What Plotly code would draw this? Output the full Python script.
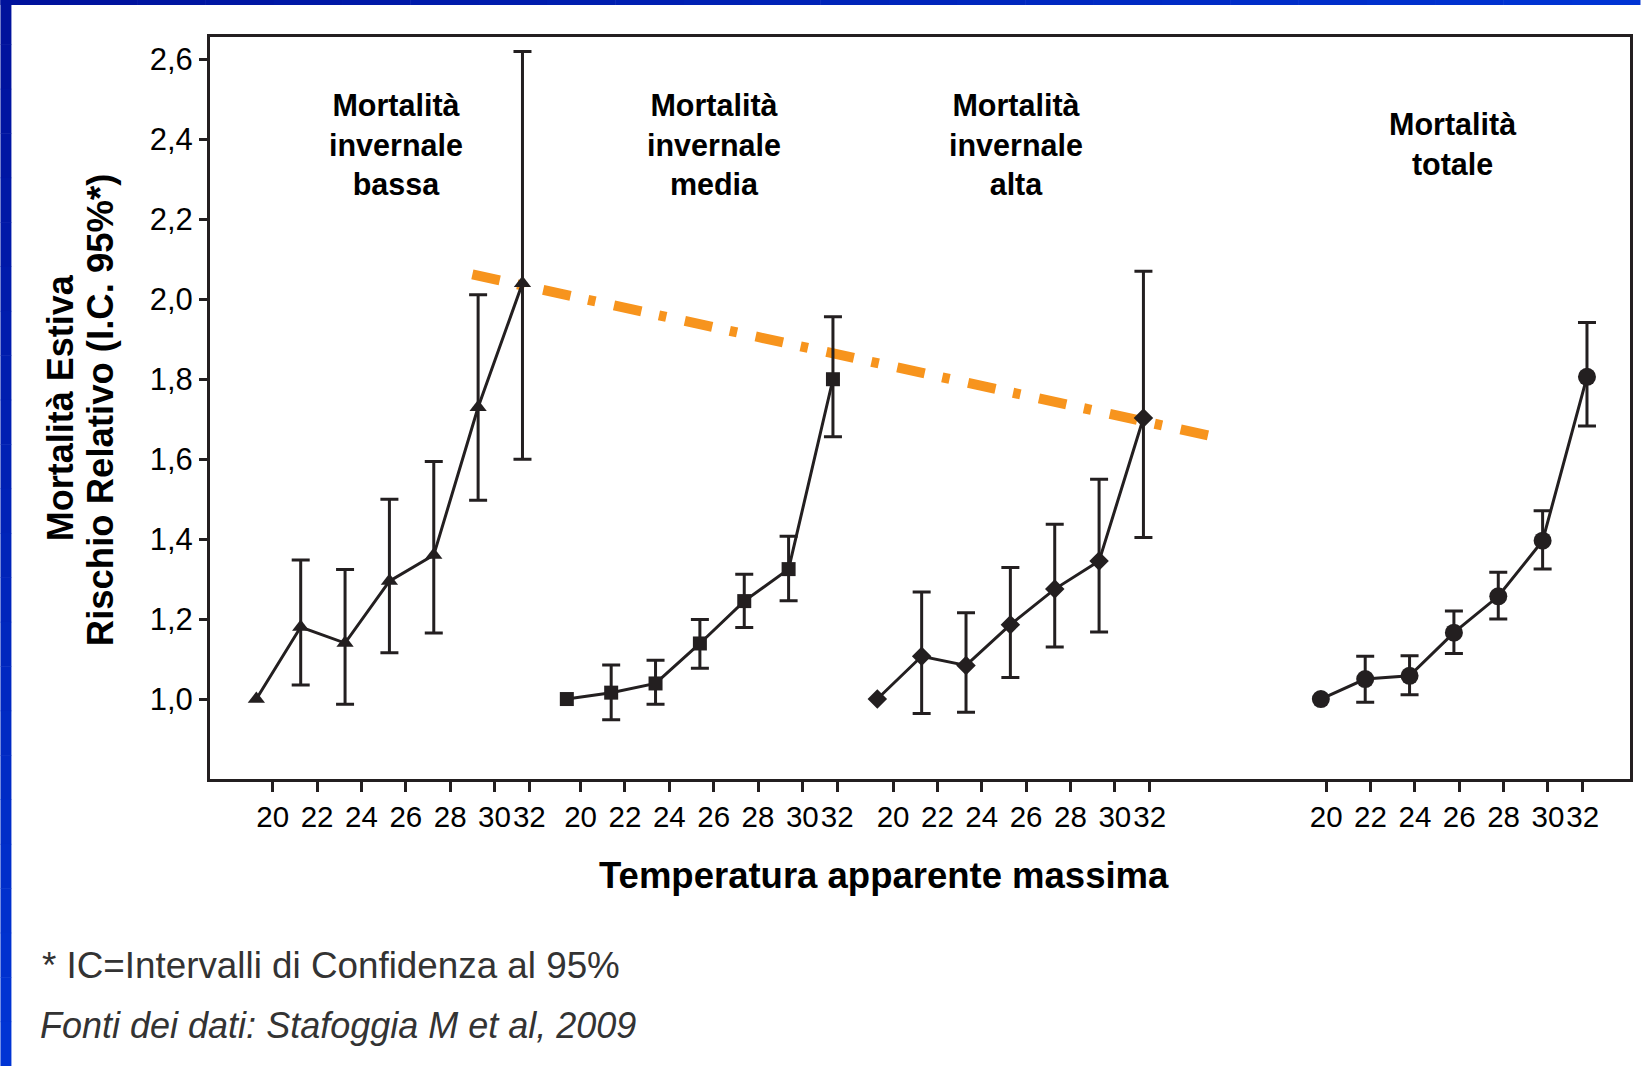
import plotly.graph_objects as go

# ---------------- data ----------------
temps = [20, 22, 24, 26, 28, 30, 32]
tick_labels = ["20", "22", "24", "26", "28", "30", "32"]

group_names = ["Mortalità invernale bassa", "Mortalità invernale media",
               "Mortalità invernale alta", "Mortalità totale"]
group_titles = ["Mortalità<br>invernale<br>bassa", "Mortalità<br>invernale<br>media",
                "Mortalità<br>invernale<br>alta", "Mortalità<br>totale"]

rr_bassa = [1.00, 1.18, 1.14, 1.295, 1.36, 1.73, 2.04]
hi_bassa = [None, 1.348, 1.324, 1.50, 1.594, 2.011, 2.62]
lo_bassa = [None, 1.035, 0.987, 1.116, 1.165, 1.497, 1.60]

rr_media = [1.00, 1.016, 1.039, 1.139, 1.245, 1.325, 1.80]
hi_media = [None, 1.085, 1.097, 1.199, 1.312, 1.407, 1.956]
lo_media = [None, 0.948, 0.987, 1.077, 1.179, 1.246, 1.656]

rr_alta = [1.00, 1.107, 1.084, 1.186, 1.275, 1.345, 1.703]
hi_alta = [None, 1.268, 1.216, 1.329, 1.437, 1.55, 2.07]
lo_alta = [None, 0.964, 0.967, 1.054, 1.13, 1.168, 1.404]

rr_totale = [1.00, 1.05, 1.058, 1.166, 1.257, 1.396, 1.806]
hi_totale = [None, 1.107, 1.108, 1.22, 1.317, 1.471, 1.942]
lo_totale = [None, 0.992, 1.011, 1.114, 1.20, 1.325, 1.683]

# orange trend line (start / end, in axis units)
trend_x = [29.74, 62.95]
trend_y = [2.062, 1.659]

y_ticks = [1.0, 1.2, 1.4, 1.6, 1.8, 2.0, 2.2, 2.4, 2.6]
y_tick_labels = ["1,0", "1,2", "1,4", "1,6", "1,8", "2,0", "2,2", "2,4", "2,6"]

# ---------------- layout constants ----------------
W, H = 1643, 1066
ML, MR, MT, MB = 210, 10, 37, 287
PW, PH = W - ML - MR, H - MT - MB
INK = "#231F20"
ORANGE = "#F7941D"
FONT = "Liberation Sans, Arial, Helvetica, sans-serif"

group_offset = [0, 14, 28, 48]
tick_shift = [0.74, 0.62, 0.71, 0.24]
last_tick_pull = 0.43
markers = [("triangle-up", 15), ("square", 14), ("diamond", 15), ("circle", 18)]
title_x = [26.30, 40.63, 54.25, 73.95]

series = [(rr_bassa, hi_bassa, lo_bassa), (rr_media, hi_media, lo_media),
          (rr_alta, hi_alta, lo_alta), (rr_totale, hi_totale, lo_totale)]

fig = go.Figure()

# trend line underneath
fig.add_trace(go.Scatter(
    x=trend_x, y=trend_y, mode="lines",
    line=dict(color=ORANGE, width=10, dash="28px,18px,7.5px,19px"),
    hoverinfo="skip", showlegend=False))

tickvals, ticktext = [], []
for g, (vals, hi, lo) in enumerate(series):
    xs = [t + group_offset[g] for t in temps]
    # error bars only where a confidence interval exists
    ex, ey, up, dn = [], [], [], []
    for x, v, h, l in zip(xs, vals, hi, lo):
        if h is not None:
            ex.append(x)
            ey.append(v)
            up.append(h - v)
            dn.append(v - l)
    fig.add_trace(go.Scatter(
        x=ex, y=ey, mode="markers",
        marker=dict(size=1, color="rgba(0,0,0,0)"),
        error_y=dict(type="data", symmetric=False, array=up, arrayminus=dn,
                     color=INK, thickness=3, width=9),
        hoverinfo="skip", showlegend=False))
    sym, size = markers[g]
    fig.add_trace(go.Scatter(
        x=xs, y=vals, mode="lines+markers", name=group_names[g],
        line=dict(color=INK, width=3),
        marker=dict(symbol=sym, size=size, color=INK, line=dict(width=0)),
        showlegend=False))
    for t, lab in zip(temps, tick_labels):
        shift = tick_shift[g] - (last_tick_pull if t == temps[-1] else 0)
        tickvals.append(t + group_offset[g] + shift)
        ticktext.append(lab)

annotations = []
for g in range(4):
    annotations.append(dict(
        x=title_x[g], y=2.388, xref="x", yref="y", text=group_titles[g],
        showarrow=False, xanchor="center", yanchor="middle", align="center",
        font=dict(family=FONT, size=30.5, color="#000000", weight="bold")))


def px_x(p):
    return (p - ML) / PW


def px_y(p):
    return (H - MB - p) / PH


# axis titles and notes
annotations.append(dict(
    x=px_x(885), y=px_y(875), xref="paper", yref="paper",
    text="<b>Temperatura apparente massima</b>", showarrow=False,
    xanchor="center", yanchor="middle",
    font=dict(family=FONT, size=36.5, color="#000000")))
annotations.append(dict(
    x=px_x(60), y=px_y(408), xref="paper", yref="paper",
    text="<b>Mortalità Estiva</b>", showarrow=False, textangle=-90,
    xanchor="center", yanchor="middle",
    font=dict(family=FONT, size=36, color="#000000")))
annotations.append(dict(
    x=px_x(101), y=px_y(410), xref="paper", yref="paper",
    text="<b>Rischio Relativo (I.C. 95%*)</b>", showarrow=False, textangle=-90,
    xanchor="center", yanchor="middle",
    font=dict(family=FONT, size=36.5, color="#000000")))
annotations.append(dict(
    x=px_x(40), y=px_y(965), xref="paper", yref="paper",
    text="* IC=Intervalli di Confidenza al 95%", showarrow=False,
    xanchor="left", yanchor="middle",
    font=dict(family=FONT, size=36.8, color="#333333")))
annotations.append(dict(
    x=px_x(38), y=px_y(1025), xref="paper", yref="paper",
    text="<i>Fonti dei dati: Stafoggia M et al, 2009</i>", showarrow=False,
    xanchor="left", yanchor="middle",
    font=dict(family=FONT, size=36, color="#333333")))

# blue slide border (gradient approximated by strips)
shapes = []
dark = (0, 18, 156)
bright = (0, 52, 212)
n = 24


def mix(f):
    return "rgb(%d,%d,%d)" % tuple(round(a + (b - a) * f) for a, b in zip(dark, bright))


for i in range(n):
    y0p, y1p = H * i / n, H * (i + 1) / n
    shapes.append(dict(type="rect", xref="paper", yref="paper",
                       x0=px_x(0), x1=px_x(11), y0=px_y(y1p + 0.5), y1=px_y(y0p),
                       fillcolor=mix(i / (n - 1)), line=dict(width=0), layer="above"))
    x0p, x1p = W * i / n, W * (i + 1) / n
    shapes.append(dict(type="rect", xref="paper", yref="paper",
                       x0=px_x(x0p), x1=px_x(x1p + 0.5), y0=px_y(5), y1=px_y(0),
                       fillcolor=mix(i / (n - 1)), line=dict(width=0), layer="above"))

fig.update_layout(
    width=W, height=H,
    margin=dict(l=ML, r=MR, t=MT, b=MB, pad=0),
    paper_bgcolor="white", plot_bgcolor="white",
    font=dict(family=FONT, color="#000000"),
    showlegend=False,
    annotations=annotations,
    shapes=shapes,
    xaxis=dict(range=[17.91, 81.94], tickmode="array", tickvals=tickvals,
               ticktext=ticktext, ticks="outside", ticklen=10, tickwidth=3,
               tickcolor=INK, showline=True, linecolor=INK, linewidth=3,
               mirror=True, showgrid=False, zeroline=False, tickangle=0,
               tickfont=dict(family=FONT, size=29.5, color="#000000")),
    yaxis=dict(range=[0.8, 2.656], tickmode="array", tickvals=y_ticks,
               ticktext=y_tick_labels, ticks="outside", ticklen=8, tickwidth=3,
               tickcolor=INK, showline=True, linecolor=INK, linewidth=3,
               mirror=True, showgrid=False, zeroline=False,
               tickfont=dict(family=FONT, size=31, color="#000000")),
)

fig.write_html("out.html", config={"displayModeBar": False})
